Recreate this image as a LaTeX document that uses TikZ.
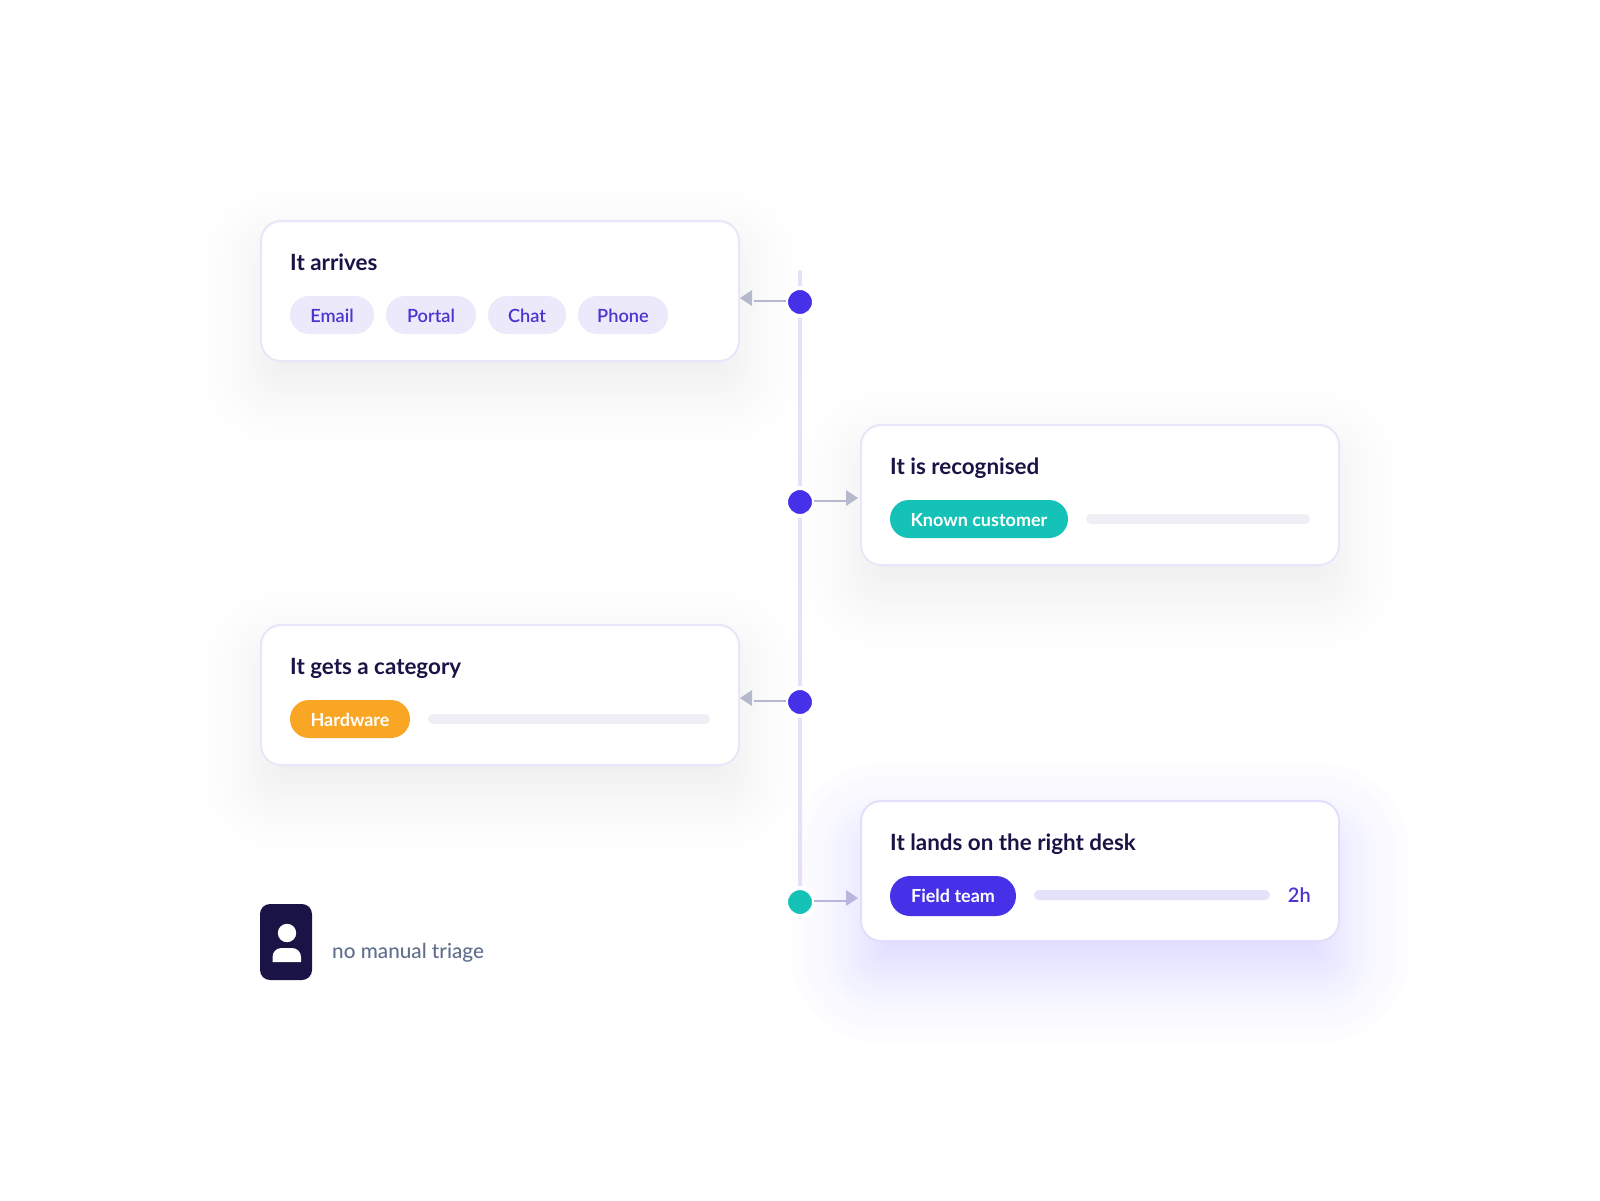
\documentclass[tikz,border=0pt]{standalone}
\usepackage{fontspec}
\setmainfont{Lato}
\newfontfamily\ftitle{Lato Bold}
\newfontfamily\fmed{Lato Semibold}
\newfontfamily\fnote{Lato Medium}
\definecolor{ink}{HTML}{1A1446}
\definecolor{violet}{HTML}{4630E8}
\definecolor{violetglow}{HTML}{5A40FF}
\definecolor{violettext}{HTML}{4A35D0}
\definecolor{pillbg}{HTML}{ECE9FB}
\definecolor{cardline}{HTML}{E8E6F8}
\definecolor{cardlineb}{HTML}{E2DEFB}
\definecolor{rail}{HTML}{E4E2F8}
\definecolor{railpink}{HTML}{EBDCFA}
\definecolor{teal}{HTML}{14C2B8}
\definecolor{amber}{HTML}{F8A623}
\definecolor{trackgrey}{HTML}{EEEEF4}
\definecolor{conn}{HTML}{B4BACB}
\definecolor{connb}{HTML}{B8B6E0}
\definecolor{muted}{HTML}{5F6F8C}
% equal-alpha layers placed at the quantiles of a Gaussian
\newcommand{\softshadow}[8]{%
  \foreach \z in {1.75,1.44,1.15,0.935,0.755,0.598,0.454,0.319,0.189,0.063,-0.063,-0.189,-0.319,-0.454,-0.598,-0.755,-0.935,-1.15,-1.44,-1.96}{%
    \pgfmathsetmacro\d{\z*#6}%
    \pgfmathsetmacro\rad{max(20+\d,1)}%
    \fill[#7,fill opacity=#8,rounded corners=\rad pt]
      (#1-\d,#2+#5-\d) rectangle (#3+\d,#4+#5+\d);
  }%
}
\tikzset{
  card/.style={draw=cardline,line width=2pt,fill=white,rounded corners=20pt,anchor=north west,inner sep=0pt,outer sep=0pt},
  title/.style={anchor=base west,inner sep=0pt,text=ink,font=\ftitle\fontsize{22.4}{24}\selectfont},
  pill/.style={rounded corners=19pt,inner sep=0pt,outer sep=0pt,anchor=north west,minimum height=38pt,text height=14pt,text depth=0pt},
  softpill/.style={pill,fill=pillbg,text=violettext,font=\fmed\fontsize{18.2}{20}\selectfont},
  track/.style={fill=#1,rounded corners=5pt,inner sep=0pt,outer sep=0pt,anchor=north west,minimum height=10pt},
  railline/.style={draw=rail,line width=4pt,line cap=round},
  stepdot/.style={circle,fill=#1,draw=white,line width=4pt,minimum size=28pt,inner sep=0pt,outer sep=0pt},
  link/.style={draw=conn,line width=2pt},
  linkb/.style={draw=connb,line width=2pt},
  strongpill/.style={pill,text=white,font=\ftitle\fontsize{18}{20}\selectfont},
}
\begin{document}
\begin{tikzpicture}[x=1pt,y=-1pt]
\useasboundingbox[fill=white] (0,0) rectangle (1600,1200);
% shadows
\softshadow{261}{221}{739}{360}{26}{37}{ink}{0.0055}
\softshadow{861}{425}{1339}{564}{26}{37}{ink}{0.0055}
\softshadow{261}{625}{739}{765}{26}{37}{ink}{0.0055}
\softshadow{861}{801}{1339}{941}{32}{40}{violetglow}{0.0065}
% rail
\coordinate (railtop) at (800,272);
\coordinate (railend) at (800,917);
\draw[railline] (railtop) -- (railend);
\shade[top color=rail,bottom color=railpink] (798,790) rectangle (802,888);
% cards
\node[card,minimum width=478pt,minimum height=140pt] (c1) at (261,221) {};
\node[card,minimum width=478pt,minimum height=140pt] (c2) at (861,425) {};
\node[card,minimum width=478pt,minimum height=140pt] (c3) at (261,625) {};
\node[card,draw=cardlineb,minimum width=478pt,minimum height=140pt] (c4) at (861,801) {};
% titles
\node[title] (t1) at (290,270) {It arrives};
\node[title] (t2) at (890,474) {It is recognised};
\node[title] (t3) at (290,674) {It gets a category};
\node[title] (t4) at (890,850) {It lands on the right desk};
% pills
\node[softpill,minimum width=84pt] (p1) at (290,296) {Email};
\node[softpill,minimum width=90pt] (p2) at (386,296) {Portal};
\node[softpill,minimum width=78pt] (p3) at (488,296) {Chat};
\node[softpill,minimum width=90pt] (p4) at (578,296) {Phone};
\node[strongpill,fill=teal,minimum width=178pt] (p5) at (890,500) {Known customer};
\node[strongpill,fill=amber,minimum width=120pt] (p6) at (290,700) {Hardware};
\node[strongpill,fill=violet,minimum width=126pt,minimum height=40pt,rounded corners=20pt,text height=13pt] (p7) at (890,876) {Field team};
% tracks
\node[track=trackgrey,minimum width=224pt] (k2) at (1086,514) {};
\node[track=trackgrey,minimum width=282pt] (k3) at (428,714) {};
\node[track=rail,minimum width=236pt] (k4) at (1034,890) {};
\node[anchor=base east,inner sep=0pt,text=violettext,font=\fmed\fontsize{20}{22}\selectfont] (h) at (1311,902) {2h};
% dots
\node[stepdot=violet] (d1) at (800,302) {};
\node[stepdot=violet] (d2) at (800,502) {};
\node[stepdot=violet] (d3) at (800,702) {};
\node[stepdot=teal] (d4) at (800,902) {};
% connectors
\coordinate (a1) at (754,301);
\coordinate (a2) at (846,501);
\coordinate (a3) at (754,701);
\coordinate (a4) at (846,901);
\draw[link] (d1 |- a1) ++(-14,0) -- (a1);
\draw[link] (d2 |- a2) ++(14,0) -- (a2);
\draw[link] (d3 |- a3) ++(-14,0) -- (a3);
\draw[linkb] (d4 |- a4) ++(14,0) -- (a4);
\fill[conn] (a1)++(-2,-11) -- ++(-12,8) -- ++(12,8) -- cycle;
\fill[conn] (a2)++(0,-11) -- ++(12,8) -- ++(-12,8) -- cycle;
\fill[conn] (a3)++(-2,-11) -- ++(-12,8) -- ++(12,8) -- cycle;
\fill[connb] (a4)++(0,-11) -- ++(12,8) -- ++(-12,8) -- cycle;
% badge
\node[fill=ink,rounded corners=10pt,inner sep=0pt,outer sep=0pt,anchor=north west,minimum width=52pt,minimum height=76pt] (b) at (260,904) {};
\fill[white] (287,933) circle (9.2);
\fill[white] (272.5,962) -- (272.5,957) .. controls (272.5,952) and (276.5,948) .. (281.5,948) -- (292,948) .. controls (297,948) and (301,952) .. (301,957) -- (301,962) -- cycle;
\node[anchor=base west,inner sep=0pt,text=muted,font=\fnote\fontsize{20.7}{22}\selectfont] (n) at (332,958) {no manual triage};
\end{tikzpicture}
\end{document}
